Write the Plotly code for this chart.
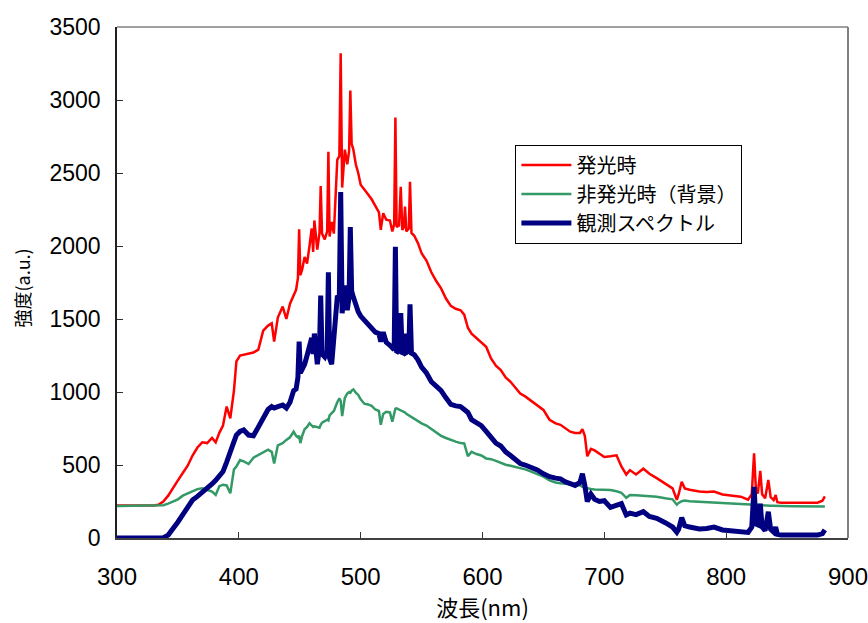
import plotly.graph_objects as go

wavelength = [300, 310, 320, 330, 334, 338, 342, 346, 350, 354, 358, 362, 366, 370, 374, 378, 381, 384, 387, 390,
              393, 396, 398, 401, 404, 408, 412, 416, 420, 424, 427, 429, 432, 436, 439, 442, 445, 447, 448.5, 449.5,
              450.5, 452, 454, 456, 458, 459.8, 461, 462, 464.4, 466.2, 467.2, 468.3, 470.5, 472.5, 473.5, 474.5, 476.2, 478, 480.8, 482.5,
              483.6, 484.8, 487, 489, 490.5, 491.5, 492.6, 494, 496, 498, 500, 503, 506, 509, 512, 515, 516.5, 518.5, 521, 524,
              526, 527.5, 528.5, 529.5, 531.5, 532.9, 534.2, 535.5, 536.4, 537.5, 539.5, 540.5, 541.7, 544, 547, 550, 554, 558, 562, 566,
              570, 574, 578, 582, 585, 588, 591, 595, 599, 603, 607, 611, 615, 619, 623, 627, 631, 635, 640, 645,
              650, 655, 660, 664, 668, 672, 676, 680, 682, 684, 686, 689, 692, 696, 700, 705, 710, 714, 718, 721,
              726, 732, 737, 743, 750, 756, 759.5, 761, 763.5, 766, 770, 778, 784, 790, 797, 805, 812, 818, 821, 822.9,
              824.5, 826, 828, 829.5, 832, 834.6, 836.5, 839, 840.6, 842, 845, 855, 865, 875, 879, 881]

emission = [222, 222, 222, 223, 228, 250, 290, 345, 395, 445, 495, 565, 620, 655, 650, 685, 655, 720, 770, 900,
            820, 1010, 1210, 1250, 1255, 1262, 1270, 1290, 1420, 1455, 1470, 1345, 1510, 1585, 1500, 1605, 1670, 1700, 1780, 2115,
            1800, 1840, 1925, 1880, 2000, 2120, 1960, 2175, 1975, 2090, 2410, 2085, 2045, 2100, 2645, 2065, 2165, 2085, 2590, 2615,
            3320, 2400, 2660, 2560, 2650, 3065, 2700, 2660, 2560, 2500, 2420, 2390, 2355, 2320, 2270, 2230, 2110, 2225, 2180, 2175,
            2100, 2150, 2880, 2130, 2140, 2405, 2110, 2130, 2270, 2100, 2120, 2440, 2090, 2070, 2020, 1950, 1900, 1820, 1760, 1710,
            1640, 1590, 1570, 1560, 1530, 1440, 1400, 1370, 1345, 1310, 1230, 1180, 1150, 1100, 1070, 1030, 990, 970, 940, 910,
            877, 810, 785, 775, 750, 728, 720, 720, 745, 700, 560, 610, 600, 575, 555, 560, 566, 490, 435, 465,
            435, 475, 440, 410, 375, 340, 262, 300, 385, 340, 330, 318, 315, 318, 298, 290, 283, 262, 300, 580,
            320, 305, 460, 300, 272, 398, 280, 260, 295, 245, 242, 242, 242, 242, 255, 285]

background = [220, 220, 220, 220, 221, 225, 235, 248, 265, 290, 305, 325, 335, 340, 330, 318, 295, 355, 365, 360,
              306, 470, 490, 534, 525, 507, 550, 570, 590, 605, 590, 511, 635, 650, 672, 690, 728, 700, 690, 700,
              650, 700, 745, 760, 786, 770, 760, 765, 760, 755, 775, 790, 800, 810, 805, 840, 855, 870, 930, 957,
              940, 835, 960, 990, 1000, 995, 1010, 1018, 995, 980, 950, 920, 915, 905, 880, 870, 775, 850, 865, 860,
              797, 860, 885, 888, 880, 877, 870, 865, 860, 850, 840, 830, 825, 815, 800, 785, 770, 745, 725, 700,
              685, 670, 660, 650, 648, 560, 590, 575, 565, 545, 540, 528, 515, 502, 495, 488, 478, 470, 455, 440,
              420, 395, 380, 375, 370, 368, 365, 362, 350, 345, 340, 335, 333, 333, 330, 329, 320, 310, 275, 295,
              292, 290, 286, 283, 272, 265, 228, 240, 252, 256, 252, 248, 245, 242, 238, 235, 230, 226, 225, 224,
              224, 223, 223, 223, 222, 222, 221, 221, 220, 220, 220, 218, 217, 216, 215, 215]

observed = [0, 0, 0, 0, 0, 2, 20, 62, 110, 160, 218, 260, 285, 310, 340, 370, 395, 420, 455, 520,
            580, 660, 705, 730, 740, 705, 700, 760, 830, 880, 900, 890, 900, 910, 890, 930, 1010, 1020, 1100, 1345,
            1130, 1150, 1190, 1250, 1335, 1370, 1260, 1400, 1190, 1300, 1660, 1260, 1240, 1280, 1820, 1230, 1190, 1400, 1650, 1660,
            2370, 1540, 1730, 1560, 1650, 2130, 1690, 1650, 1590, 1550, 1520, 1490, 1460, 1430, 1410, 1400, 1345, 1410, 1340, 1320,
            1300, 1290, 1995, 1270, 1280, 1540, 1260, 1270, 1400, 1270, 1280, 1600, 1265, 1255, 1220, 1170, 1130, 1070, 1040, 1010,
            960, 915, 905, 900, 880, 860, 810, 790, 770, 730, 690, 650, 630, 590, 565, 540, 510, 500, 485, 466,
            440, 420, 410, 405, 385, 374, 360, 380, 440, 360, 250, 300, 265, 250, 255, 210, 220, 235, 158, 170,
            160, 180, 148, 135, 105, 75, 40, 60, 140, 85, 75, 62, 65, 75, 55, 50, 45, 38, 75, 350,
            95, 90, 235, 75, 50, 180, 60, 40, 75, 25, 20, 18, 18, 20, 30, 55]

names = ["発光時", "非発光時（背景）", "観測スペクトル"]
colors = ["#FF0000", "#339966", "#000080"]
widths = [2.5, 2.5, 5]
x_ticks = [300, 400, 500, 600, 700, 800, 900]
y_ticks = [0, 500, 1000, 1500, 2000, 2500, 3000, 3500]

JP = "Noto Sans CJK JP"
NUM = "Liberation Sans"

fig = go.Figure()
for name, ys, c, w in zip(names, [emission, background, observed], colors, widths):
    fig.add_trace(go.Scatter(x=wavelength, y=ys, mode="lines", name=name,
                             line=dict(color=c, width=w)))

fig.update_layout(
    width=868, height=623,
    margin=dict(l=117, r=20, t=27, b=85, autoexpand=False),
    paper_bgcolor="white", plot_bgcolor="white",
    showlegend=True,
    legend=dict(x=0.545, y=0.77, xanchor="left", yanchor="top",
                bordercolor="black", borderwidth=1, bgcolor="white",
                font=dict(family=JP, size=20, color="black"),
                tracegroupgap=0, itemwidth=50),
    xaxis=dict(range=[300, 900], tickvals=x_ticks, ticks="inside", ticklen=6, tickcolor="#333",
               showline=True, linecolor="#404040", linewidth=2, showgrid=False, zeroline=False,
               automargin=False, ticklabeloverflow="allow",
               tickfont=dict(family=NUM, size=24, color="black"), ticklabelstandoff=16,
               title=dict(text="波長(nm)", font=dict(family=JP, size=22, color="black"), standoff=10)),
    yaxis=dict(range=[0, 3500], tickvals=y_ticks, ticks="inside", ticklen=6, tickcolor="#333",
               showline=True, linecolor="#202020", linewidth=1.5, showgrid=False, zeroline=False,
               automargin=False, ticklabeloverflow="allow",
               tickfont=dict(family=NUM, size=23, color="black"), ticklabelstandoff=10),
)

fig.add_annotation(text="強度(a.u.)", textangle=-90, xref="paper", yref="paper",
                   x=-0.13, y=0.49, xanchor="center", yanchor="middle", showarrow=False,
                   font=dict(family=JP, size=18, color="black"))

fig.add_shape(type="line", xref="paper", yref="paper", x0=0, x1=1, y0=1, y1=1,
              line=dict(color="#808080", width=1.5))
fig.add_shape(type="line", xref="paper", yref="paper", x0=1, x1=1, y0=0, y1=1,
              line=dict(color="#808080", width=2))

fig.write_html("out.html")
